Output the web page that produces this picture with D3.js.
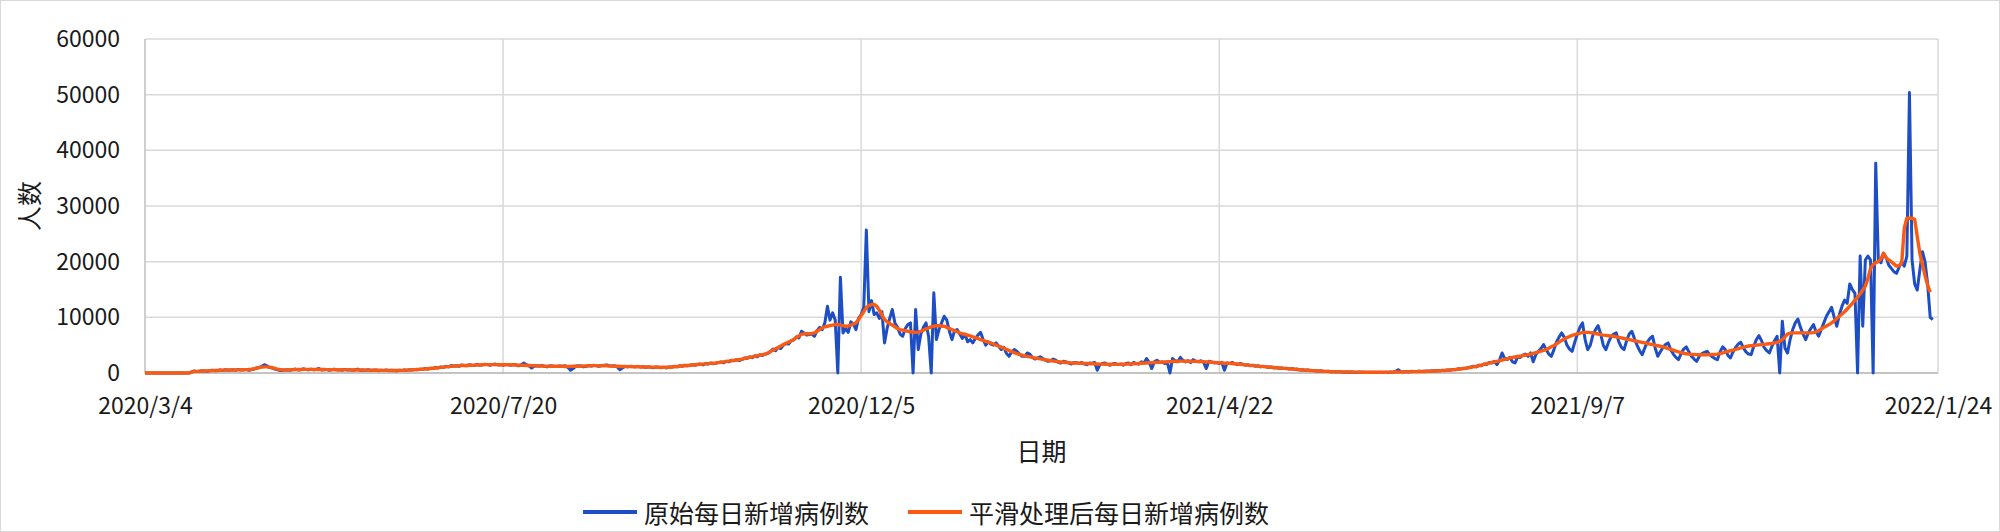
<!DOCTYPE html>
<html>
<head>
<meta charset="utf-8">
<script src="https://cdn.jsdelivr.net/npm/d3@7"></script>
<style>
  body { margin: 0; background: #fff; }
  svg text { font-family: "Noto Sans CJK SC", "Noto Sans", sans-serif; fill: #1a1a1a; }
</style>
</head>
<body>
<svg id="chart" width="2000" height="532"></svg>
<script>
// daily series, first day 2020/3/4
var startDay = "2020/3/4";
var tickLabels = ["2020/3/4", "2020/7/20", "2020/12/5", "2021/4/22", "2021/9/7", "2022/1/24"];
var yTicks = [0, 10000, 20000, 30000, 40000, 50000, 60000];
var seriesNames = ["原始每日新增病例数", "平滑处理后每日新增病例数"];

// 原始每日新增病例数
var rawCases = [
  0,0,0,0,0,0,0,0,0,0,
  0,0,0,0,0,0,0,0,200,350,
  250,300,400,350,300,450,500,400,450,550,
  450,600,500,550,600,500,650,550,600,650,
  500,600,700,900,1000,1200,1500,1300,1000,900,
  700,600,450,500,550,600,500,650,700,550,
  600,750,650,550,700,600,650,800,550,600,
  650,500,600,700,550,600,500,650,550,600,
  500,600,700,450,550,500,600,450,500,550,
  400,500,450,550,400,500,450,400,500,450,
  550,500,600,550,650,600,700,650,800,700,
  850,800,1000,900,1100,1000,1200,1100,1350,1200,
  1300,1200,1450,1350,1300,1500,1400,1350,1550,1400,
  1450,1600,1500,1400,1550,1600,1450,1500,1400,1550,
  1500,1400,1550,1450,1300,1500,1800,1500,1300,900,
  1200,1300,1250,1350,1200,1100,1300,1250,1150,1200,
  1250,1200,1300,1000,500,800,1200,1300,1250,1100,
  1200,1350,1250,1400,1300,1200,1350,1400,1450,1300,
  1250,1300,1100,600,900,1200,1100,1200,1150,1100,
  1200,1050,1150,1000,1100,1050,950,1100,1000,950,
  1050,900,1100,1050,1200,1100,1300,1200,1400,1300,
  1350,1500,1400,1550,1600,1450,1700,1600,1800,1650,
  1750,1900,2000,1850,2100,2000,2300,2200,2400,2250,
  2400,2700,2600,2900,2750,3100,2900,3300,3150,3400,
  3500,3800,4300,4000,4600,4400,5000,5300,5200,5800,
  5900,6500,6300,7500,7200,6800,6900,7000,6600,7600,
  8200,7800,9000,12000,9500,10800,9500,0,17200,7200,
  8000,7300,9200,8800,7800,9800,10500,11800,25700,11000,
  13000,10500,10800,9800,11000,5400,8000,9800,11400,9000,
  8200,7000,6600,8000,8700,9000,0,11400,4200,7000,
  8200,9000,6500,0,14400,6000,7800,9000,10200,9500,
  7500,6000,7600,7800,7000,6200,7000,5600,6000,5400,
  6200,6800,7300,6000,5000,5600,5200,5000,5400,4800,
  4200,4600,3500,3000,3800,4200,3900,3400,3000,3000,
  3600,3400,2800,2500,2700,2900,2600,2300,2100,2200,
  2500,2300,1900,1800,2100,2000,1800,1600,1900,1850,
  1700,1900,1600,1500,1800,1750,1900,500,1500,1700,
  1800,1500,1400,1650,1700,1500,1600,1400,1700,1800,
  1500,1900,1700,1600,2000,1800,2600,1900,800,2000,
  2300,1900,2000,1700,1900,0,2600,2200,2000,2800,
  2300,2000,2200,1900,2400,2100,2000,2200,1900,800,
  2100,2000,1800,1900,1700,1900,500,1800,1700,1900,
  1700,1500,1700,1600,1400,1500,1300,1400,1200,1300,
  1100,1200,1100,1000,1100,900,1000,850,900,800,
  850,700,800,650,700,550,600,500,550,450,
  450,400,350,400,300,250,300,200,250,200,
  250,200,150,200,150,200,150,100,200,150,
  150,100,150,100,150,100,150,100,150,100,
  200,150,300,600,250,200,250,200,300,250,
  250,300,250,300,350,300,400,350,450,400,
  500,450,550,500,650,600,750,700,850,800,
  1000,1100,1200,1100,1400,1300,1600,1500,1900,1800,
  2100,1500,2300,3600,2600,2400,2800,2000,1800,2900,
  2800,3200,3400,3000,3600,2000,3300,3900,4400,5100,
  4200,3400,3000,4200,5600,6500,7200,6400,5000,4300,
  3900,5500,7000,8200,9000,6000,4200,5000,6800,7800,
  8500,7000,5000,4200,5500,6500,7000,7200,5600,4600,
  4200,5800,7000,7500,6200,5000,4000,3300,4500,5600,
  6200,6600,4500,3000,3800,4600,5100,5400,4200,3400,
  2800,2400,3500,4300,4700,3800,3000,2500,2100,3000,
  3500,3700,3900,3300,2900,2600,2400,3800,4700,4200,
  3200,2700,3800,4600,5200,5500,4500,3800,3400,3300,
  4800,6000,6700,5800,4600,4000,3600,4800,5800,6600,
  0,9300,4500,3600,6000,7800,9000,9700,8200,7000,
  6000,7200,8000,8700,7400,6600,7800,9000,10200,11000,
  11800,10000,8400,10500,12000,13100,12500,16000,15000,14300,
  0,21000,8400,20300,21000,20300,0,37700,20300,19800,
  21500,20800,19400,18800,18200,17900,19000,20000,19200,21000,
  50400,20300,16000,14900,18500,21800,20000,16000,10000,9600
];

// 平滑处理后每日新增病例数
var smoothCases = [
  0,0,0,0,0,0,0,0,0,0,
  0,0,0,0,0,0,0,0,150,300,
  300,320,340,360,380,400,420,440,460,500,
  510,520,530,540,550,560,570,580,590,600,
  620,680,760,850,950,1050,1100,1100,1050,950,
  820,700,620,560,540,540,560,580,600,620,
  640,650,660,660,650,640,640,630,620,620,
  610,600,600,590,590,580,580,570,560,560,
  550,550,540,540,530,520,520,510,500,500,
  490,480,480,470,470,460,460,460,470,480,
  500,520,540,560,590,620,650,680,720,760,
  800,850,900,950,1000,1050,1100,1150,1200,1250,
  1280,1300,1320,1340,1360,1380,1400,1420,1440,1460,
  1480,1500,1500,1510,1510,1500,1500,1490,1490,1480,
  1470,1460,1450,1440,1420,1400,1380,1360,1340,1320,
  1300,1280,1260,1250,1240,1230,1220,1210,1200,1200,
  1200,1190,1180,1180,1190,1200,1210,1220,1240,1260,
  1280,1300,1310,1320,1320,1320,1310,1300,1280,1260,
  1240,1220,1200,1180,1160,1150,1140,1140,1130,1120,
  1110,1100,1090,1080,1070,1060,1050,1040,1030,1020,
  1010,1020,1040,1080,1120,1160,1200,1250,1300,1350,
  1400,1440,1480,1520,1560,1600,1640,1680,1720,1760,
  1800,1860,1920,1990,2060,2130,2200,2270,2340,2420,
  2500,2600,2700,2800,2900,3000,3100,3200,3300,3400,
  3600,3850,4100,4350,4600,4850,5100,5350,5550,5750,
  6050,6350,6650,6950,7050,7050,7050,7100,7200,7500,
  7800,8100,8300,8400,8500,8600,8700,8700,8600,8500,
  8400,8450,8600,8800,9000,9600,10300,11000,11800,12100,
  12300,12300,12000,11300,10400,9600,9200,8900,8600,8300,
  8000,7800,7700,7600,7500,7400,7350,7300,7350,7500,
  7700,7900,8100,8300,8400,8500,8500,8450,8400,8200,
  8000,7800,7600,7400,7200,7050,6950,6800,6650,6500,
  6350,6200,6000,5850,5700,5550,5400,5200,5000,4850,
  4650,4450,4250,4050,3850,3650,3500,3350,3200,3100,
  3000,2900,2800,2700,2620,2540,2460,2380,2300,2220,
  2150,2090,2030,1980,1930,1890,1850,1820,1800,1780,
  1760,1740,1720,1700,1680,1660,1640,1620,1600,1590,
  1580,1570,1560,1550,1550,1550,1560,1570,1590,1610,
  1630,1650,1680,1710,1740,1770,1800,1830,1860,1880,
  1900,1920,1950,1980,2010,2040,2070,2100,2120,2130,
  2130,2120,2110,2100,2090,2080,2060,2040,2020,2000,
  1970,1940,1900,1860,1820,1790,1760,1740,1720,1700,
  1660,1620,1570,1520,1470,1420,1370,1320,1270,1230,
  1190,1150,1110,1070,1030,990,950,910,870,830,
  790,750,710,670,630,590,550,520,490,460,
  430,400,370,340,310,290,270,250,240,230,
  220,210,200,190,180,170,160,150,150,140,
  140,140,130,130,130,130,130,140,140,150,
  150,160,170,180,190,200,210,220,230,240,
  250,260,270,280,300,320,340,360,380,400,
  430,460,490,530,570,620,670,730,790,860,
  930,1010,1100,1200,1300,1420,1540,1660,1780,1900,
  2000,2100,2200,2320,2440,2560,2680,2790,2880,2960,
  3040,3120,3200,3300,3400,3520,3650,3780,3920,4070,
  4250,4450,4700,4950,5250,5550,5850,6100,6350,6550,
  6750,6900,7050,7150,7250,7300,7300,7250,7200,7100,
  7000,6900,6800,6750,6700,6650,6600,6500,6400,6300,
  6200,6100,6000,5900,5800,5700,5600,5500,5400,5300,
  5200,5100,5000,4900,4800,4700,4550,4400,4250,4100,
  3950,3800,3650,3550,3450,3400,3350,3320,3300,3290,
  3280,3280,3290,3300,3320,3340,3400,3500,3620,3750,
  3880,4000,4120,4250,4380,4500,4620,4750,4850,4900,
  4950,5000,5050,5100,5150,5200,5250,5300,5400,5500,
  5700,6000,6500,7000,7150,7200,7200,7200,7200,7200,
  7200,7200,7200,7250,7400,7600,7900,8200,8450,8700,
  9000,9400,9800,10200,10600,11000,11500,12000,12500,13100,
  13600,14200,14900,15600,17000,18800,19500,19800,20000,20500,
  21500,20700,20300,20000,19600,19200,19300,19700,26000,27800,
  27800,27800,27600,24500,21500,19500,17500,15800,14500
];

var svg = d3.select("#chart");
var width = +svg.attr("width");
var height = +svg.attr("height");
var margin = {left: 145, right: 62, top: 39, bottom: 159};

var parseDay = d3.timeParse("%Y/%m/%d");
var formatDay = d3.timeFormat("%Y/%-m/%-d");
var t0 = parseDay(startDay);

var x = d3.scaleTime()
    .domain([parseDay(tickLabels[0]), parseDay(tickLabels[tickLabels.length - 1])])
    .range([margin.left, width - margin.right]);
var y = d3.scaleLinear()
    .domain([0, 60000])
    .range([height - margin.bottom, margin.top]);

// chart border
svg.append("rect")
    .attr("x", 0.5).attr("y", 0.5)
    .attr("width", width - 1).attr("height", height - 1)
    .attr("fill", "none").attr("stroke", "#d9d9d9");

// gridlines
svg.append("g").selectAll("line")
    .data(yTicks.slice(1))
  .enter().append("line")
    .attr("x1", margin.left).attr("x2", width - margin.right)
    .attr("y1", function(d) { return y(d); })
    .attr("y2", function(d) { return y(d); })
    .attr("stroke", "#d9d9d9").attr("stroke-width", 1.5);

svg.append("g").selectAll("line")
    .data(tickLabels.slice(1))
  .enter().append("line")
    .attr("x1", function(d) { return x(parseDay(d)); })
    .attr("x2", function(d) { return x(parseDay(d)); })
    .attr("y1", margin.top).attr("y2", height - margin.bottom)
    .attr("stroke", "#d9d9d9").attr("stroke-width", 1.5);

// axis lines
svg.append("line")
    .attr("x1", margin.left).attr("x2", margin.left)
    .attr("y1", margin.top).attr("y2", height - margin.bottom)
    .attr("stroke", "#bfbfbf").attr("stroke-width", 1.5);
svg.append("line")
    .attr("x1", margin.left).attr("x2", width - margin.right)
    .attr("y1", y(0)).attr("y2", y(0))
    .attr("stroke", "#b0b0b0").attr("stroke-width", 1.5);

var xAxis = d3.axisBottom(x)
    .tickValues(tickLabels.map(parseDay))
    .tickFormat(formatDay)
    .tickSize(0).tickPadding(25);
var yAxis = d3.axisLeft(y)
    .tickValues(yTicks)
    .tickFormat(d3.format("d"))
    .tickSize(0).tickPadding(25);

svg.append("g")
    .attr("transform", "translate(0," + y(0) + ")")
    .call(xAxis)
    .call(function(g) { g.select(".domain").remove(); })
    .selectAll("text")
    .style("font-size", "23px");

svg.append("g")
    .attr("transform", "translate(" + margin.left + ",0)")
    .call(yAxis)
    .call(function(g) { g.select(".domain").remove(); })
    .selectAll("text")
    .style("font-size", "23px");

// axis titles
svg.append("text")
    .attr("x", (margin.left + width - margin.right) / 2)
    .attr("y", 450)
    .attr("text-anchor", "middle")
    .attr("dominant-baseline", "central")
    .style("font-size", "25px")
    .text("日期");

svg.append("text")
    .attr("transform", "translate(28," + (margin.top + height - margin.bottom) / 2 + ") rotate(-90)")
    .attr("text-anchor", "middle")
    .attr("dominant-baseline", "central")
    .style("font-size", "25px")
    .text("人数");

// lines
var day = function(i) { return d3.timeDay.offset(t0, i); };
var line = d3.line()
    .x(function(d, i) { return x(day(i)); })
    .y(function(d) { return y(d); });

svg.append("path")
    .datum(rawCases)
    .attr("d", line)
    .attr("fill", "none")
    .attr("stroke", "#1d4ec4")
    .attr("stroke-width", 3)
    .attr("stroke-linejoin", "round");

svg.append("path")
    .datum(smoothCases)
    .attr("d", line)
    .attr("fill", "none")
    .attr("stroke", "#fb5a12")
    .attr("stroke-width", 3.4)
    .attr("stroke-linejoin", "round");

// legend
var legend = [
  {name: seriesNames[0], color: "#1d4ec4", x: 583},
  {name: seriesNames[1], color: "#fb5a12", x: 908}
];
var lg = svg.append("g").selectAll("g")
    .data(legend)
  .enter().append("g")
    .attr("transform", function(d) { return "translate(" + d.x + ",512)"; });
lg.append("line")
    .attr("x1", 0).attr("x2", 54)
    .attr("stroke", function(d) { return d.color; })
    .attr("stroke-width", 4);
lg.append("text")
    .attr("x", 61)
    .attr("dominant-baseline", "central")
    .style("font-size", "25px")
    .text(function(d) { return d.name; });
</script>
</body>
</html>
